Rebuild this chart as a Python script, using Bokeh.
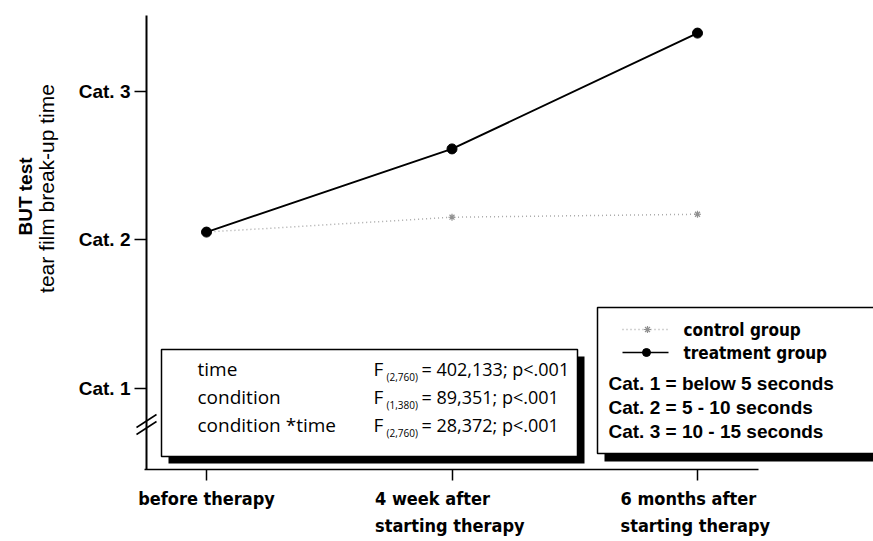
import math
from bokeh.plotting import figure
from bokeh.models import FixedTicker, Label, Arrow, Range1d, CustomLabelingPolicy
from bokeh.embed import file_html
from bokeh.resources import INLINE

# ---------------- data ----------------
time_points = ["before therapy", "4 week after\nstarting therapy", "6 months after\nstarting therapy"]
x_idx = [0, 1, 2]
treatment = [2.05, 2.61, 3.39]
control = [2.05, 2.15, 2.17]
cat_ticks = [1, 2, 3]
cat_labels = ["Cat. 1", "Cat. 2", "Cat. 3"]
series_names = ["control group", "treatment group"]
legend_cats = ["Cat. 1 = below 5 seconds", "Cat. 2 = 5 - 10 seconds", "Cat. 3 = 10 - 15 seconds"]
effects = ["time", "condition", "condition *time"]
f_dfs = ["(2,760)", "(1,380)", "(2,760)"]
f_vals = ["= 402,133; p<.001", "= 89,351; p<.001", "= 28,372; p<.001"]
y_title = ["BUT test", "tear film break-up time"]

# ---------------- layout (canvas pixels) ----------------
W, H = 873, 541
X0PX, XSTEP = 206, 245.5
Y2PX, YSTEP = 239, 148.5


def dx(px):
    return (px - X0PX) / XSTEP


def dy(py):
    return 2 + (Y2PX - py) / YSTEP


SANS = "Liberation Sans"
COND = "'DejaVu Sans Condensed', sans-serif"
STAT = "'Open Sans', sans-serif"

p = figure(width=W, height=H, output_backend="svg", toolbar_location=None,
           x_range=Range1d(dx(0), dx(W)), y_range=Range1d(dy(H), dy(0)),
           min_border=0, min_border_left=0, min_border_right=0,
           min_border_top=0, min_border_bottom=0)
p.outline_line_color = None
p.xgrid.visible = False
p.ygrid.visible = False
p.background_fill_color = "white"
p.border_fill_color = "white"

# axes (placed at fixed data locations inside the canvas-wide frame)
p.yaxis.fixed_location = dx(146)
p.yaxis.ticker = FixedTicker(ticks=cat_ticks)
p.yaxis.major_label_overrides = {t: l for t, l in zip(cat_ticks, cat_labels)}
p.yaxis.major_label_text_font = SANS
p.yaxis.major_label_text_font_style = "bold"
p.yaxis.major_label_text_font_size = "19px"
p.yaxis.major_label_text_color = "black"
p.yaxis.major_label_standoff = 4
p.yaxis.major_tick_out = 12
p.yaxis.major_tick_in = 0
p.yaxis.major_tick_line_width = 1.5
p.yaxis.minor_tick_line_color = None
p.yaxis.axis_line_width = 2
p.yaxis.bounds = (dy(469), dy(15))

# x axis: ticks and line from the axis; its category texts are drawn as
# left-aligned two-line labels below (as in the original), so the axis'
# own tick labels are suppressed by a labeling policy.
p.xaxis.fixed_location = dy(469)
p.xaxis.ticker = FixedTicker(ticks=x_idx)
p.xaxis.major_label_policy = CustomLabelingPolicy(code="""
    for (const i of indices)
        indices.unset(i)
    return indices
""")
p.xaxis.major_tick_out = 11
p.xaxis.major_tick_in = 0
p.xaxis.major_tick_line_width = 1.5
p.xaxis.minor_tick_line_color = None
p.xaxis.axis_line_width = 1.5
p.xaxis.bounds = (dx(144), dx(758))

# series
p.line(x_idx, control, line_color="#a8a8a8", line_dash="1 3", line_width=1.5)
p.scatter(x_idx[1:], control[1:], marker="asterisk", size=7, line_color="#909090", line_width=1.2)
p.line(x_idx, treatment, line_color="black", line_width=2)
p.scatter(x_idx, treatment, marker="circle", size=10, color="black")

# stats box
sl, st, sr, sb = 161, 349, 577, 456
p.quad(left=[dx(sl + 7)], right=[dx(sr + 7)], top=[dy(st + 7)], bottom=[dy(sb + 7)],
       fill_color="black", line_color=None)
p.quad(left=[dx(sl)], right=[dx(sr)], top=[dy(st)], bottom=[dy(sb)],
       fill_color="white", line_color="black", line_width=1.5)

# legend box
ll, lt, lr, lb = 597, 307, 900, 453
p.quad(left=[dx(ll + 7)], right=[dx(lr + 7)], top=[dy(lt + 8)], bottom=[dy(lb + 8)],
       fill_color="black", line_color=None)
p.quad(left=[dx(ll)], right=[dx(lr)], top=[dy(lt)], bottom=[dy(lb)],
       fill_color="white", line_color="black", line_width=1.5)

# legend samples
p.line([dx(622), dx(668)], [dy(329), dy(329)], line_color="#a8a8a8", line_dash="1 3", line_width=1.5)
p.scatter([dx(647)], [dy(329)], marker="asterisk", size=7, line_color="#909090", line_width=1.2)
p.line([dx(622), dx(668)], [dy(352), dy(352)], line_color="black", line_width=1.5)
p.scatter([dx(646)], [dy(352)], marker="circle", size=8, color="black")


def lab(px, py, text, font=SANS, size=17, style="normal", align="left", baseline="middle", angle=0):
    p.add_layout(Label(x=dx(px), y=dy(py), text=text, text_font=font, text_font_size=f"{size}px",
                       text_font_style=style, text_align=align, text_baseline=baseline,
                       angle=angle, text_color="black"))


for i, name in enumerate(series_names):
    lab(683, 329 + 23 * i, name, font=COND, size=17, style="bold")
for i, t in enumerate(legend_cats):
    lab(608, 383 + 24 * i, t, font=SANS, size=19, style="bold")

# stats text
for i in range(3):
    yy = 368 + 28 * i
    lab(197, yy, effects[i], font=STAT, size=19)
    lab(373, yy, "F", font=STAT, size=19)
    lab(386, yy + 8, f_dfs[i], font=STAT, size=10)
    lab(421, yy, f_vals[i], font=STAT, size=18)

# y title
lab(25, 196, y_title[0], font=SANS, size=19, style="bold", align="center", angle=math.pi / 2)
lab(46, 188, y_title[1], font=SANS, size=21, align="center", angle=math.pi / 2)

# x category labels
for i, t in enumerate(time_points):
    lines = t.split("\n")
    cx = X0PX + XSTEP * x_idx[i]
    if len(lines) == 1:
        lab(cx, 498, lines[0], font=COND, size=18, style="bold", align="center")
    else:
        for j, ln in enumerate(lines):
            lab(cx - 77, 498 + 27 * j, ln, font=COND, size=18, style="bold", align="left")

# axis break marks
for k in range(2):
    p.add_layout(Arrow(end=None, x_start=dx(136), y_start=dy(427 + 7 * k),
                       x_end=dx(156), y_end=dy(414 + 7 * k), line_width=1.5, line_color="black"))

open("out.html", "w").write(file_html(p, INLINE))
